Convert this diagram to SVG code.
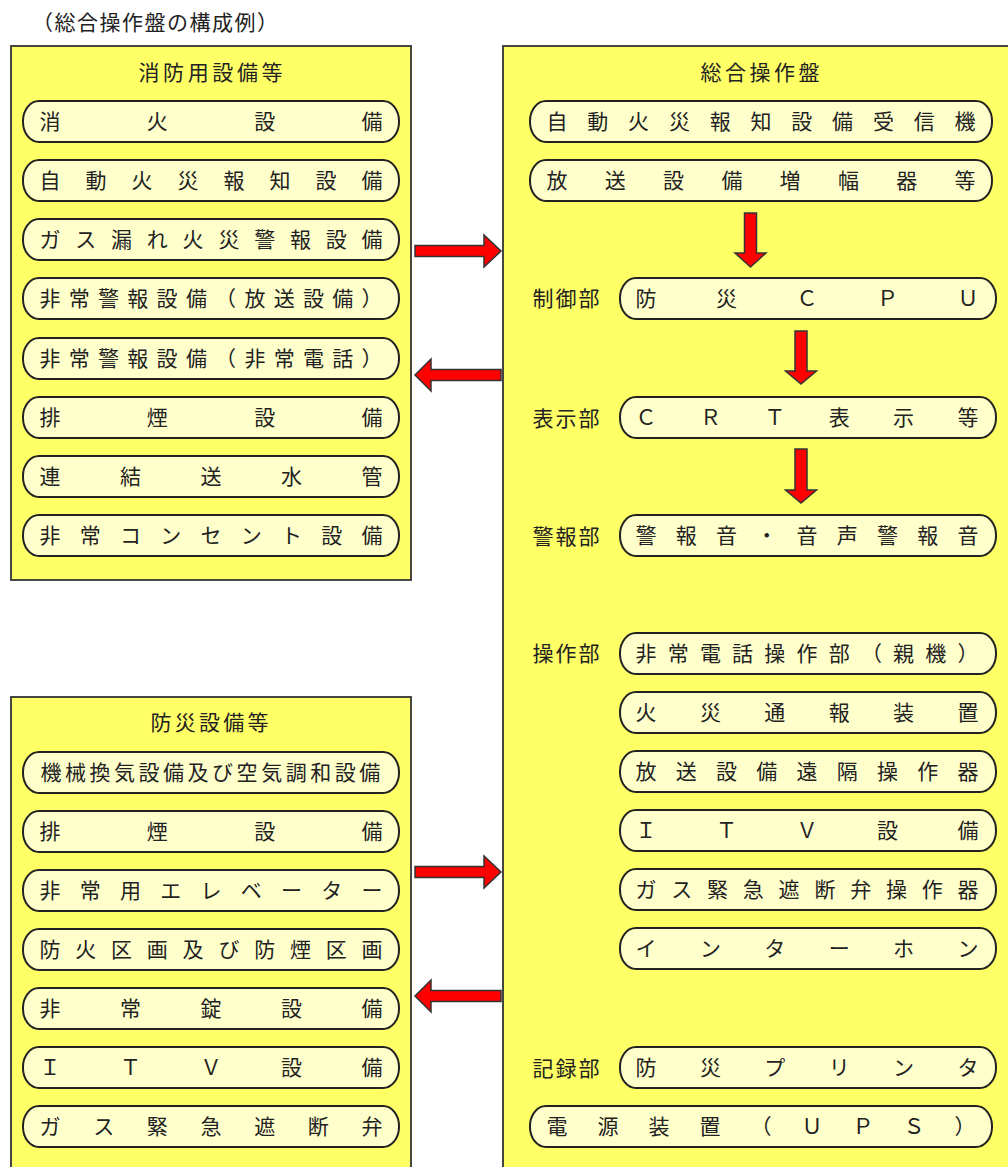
<svg xmlns="http://www.w3.org/2000/svg" width="1008" height="1167" viewBox="0 0 1008 1167">
<style>
.panel{fill:#FFFF66;stroke:#333;stroke-width:1.8}
.pill{fill:#FFFFCC;stroke:#222;stroke-width:2}
.t{font-family:"Noto Sans CJK JP","Noto Sans CJK SC",sans-serif;font-size:21px;fill:#222;text-anchor:middle}
.h{font-family:"Noto Sans CJK JP","Noto Sans CJK SC",sans-serif;font-size:21px;fill:#222}
.arr{fill:#FF0000;stroke:#333;stroke-width:1.5;stroke-linejoin:miter}
</style>
<rect width="1008" height="1167" fill="#FFFFFF"/>
<text class="h" x="32" y="30" letter-spacing="1.5">（総合操作盤の構成例）</text>

<g id="panel-shobo">
<rect class="panel" x="11" y="46" width="400" height="534"/>
<text class="t" x="149 173.6 198.2 222.8 247.4 272" y="80">消防用設備等</text>
</g>
<g id="panel-bosai">
<rect class="panel" x="11" y="697" width="400" height="490"/>
<text class="t" x="161 185.2 209.5 233.8 258" y="730">防災設備等</text>
</g>
<g id="panel-sogo">
<rect class="panel" x="503" y="46" width="530" height="1150"/>
<text class="t" x="711 735.5 760 784.5 809" y="80">総合操作盤</text>
<text class="t" x="543 566 589" y="306">制御部</text>
<text class="t" x="543 566 589" y="426">表示部</text>
<text class="t" x="543 566 589" y="544">警報部</text>
<text class="t" x="543 566 589" y="661">操作部</text>
<text class="t" x="543 566 589" y="1076">記録部</text>
</g>

<g id="l1"><rect class="pill" x="23" y="101" width="376" height="41" rx="16" ry="20"/><text class="t" x="50 157.3 264.7 372" y="129">消火設備</text></g>
<g id="l2"><rect class="pill" x="23" y="160" width="376" height="41" rx="16" ry="20"/><text class="t" x="50 96 142 188 234 280 326 372" y="188">自動火災報知設備</text></g>
<g id="l3"><rect class="pill" x="23" y="219" width="376" height="41" rx="16" ry="20"/><text class="t" x="50 85.8 121.6 157.3 193.1 228.9 264.7 300.4 336.2 372" y="247">ガス漏れ火災警報設備</text></g>
<g id="l4"><rect class="pill" x="23" y="278" width="376" height="41" rx="16" ry="20"/><text class="t" x="50 79.3 108.5 137.8 167.1 196.4 225.6 254.9 284.2 313.5 342.7 372" y="306">非常警報設備（放送設備）</text></g>
<g id="l5"><rect class="pill" x="23" y="338" width="376" height="41" rx="16" ry="20"/><text class="t" x="50 79.3 108.5 137.8 167.1 196.4 225.6 254.9 284.2 313.5 342.7 372" y="366">非常警報設備（非常電話）</text></g>
<g id="l6"><rect class="pill" x="23" y="397" width="376" height="41" rx="16" ry="20"/><text class="t" x="50 157.3 264.7 372" y="425">排煙設備</text></g>
<g id="l7"><rect class="pill" x="23" y="456" width="376" height="41" rx="16" ry="20"/><text class="t" x="50 130.5 211 291.5 372" y="484">連結送水管</text></g>
<g id="l8"><rect class="pill" x="23" y="515" width="376" height="41" rx="16" ry="20"/><text class="t" x="50 90.25 130.5 170.75 211 251.25 291.5 331.75 372" y="543">非常コンセント設備</text></g>

<g id="b1"><rect class="pill" x="23" y="752" width="376" height="41" rx="16" ry="20"/><text class="t" x="51 75.5 100 124.5 149 173.6 198.1 222.6 247.1 271.7 296.2 320.7 345.2 369.7" y="780">機械換気設備及び空気調和設備</text></g>
<g id="b2"><rect class="pill" x="23" y="811" width="376" height="41" rx="16" ry="20"/><text class="t" x="50 157.3 264.7 372" y="839">排煙設備</text></g>
<g id="b3"><rect class="pill" x="23" y="870" width="376" height="41" rx="16" ry="20"/><text class="t" x="50 90.25 130.5 170.75 211 251.25 291.5 331.75 372" y="898">非常用エレベーター</text></g>
<g id="b4"><rect class="pill" x="23" y="929" width="376" height="41" rx="16" ry="20"/><text class="t" x="50 85.8 121.6 157.3 193.1 228.9 264.7 300.4 336.2 372" y="957">防火区画及び防煙区画</text></g>
<g id="b5"><rect class="pill" x="23" y="988" width="376" height="41" rx="16" ry="20"/><text class="t" x="50 130.5 211 291.5 372" y="1016">非常錠設備</text></g>
<g id="b6"><rect class="pill" x="23" y="1047" width="376" height="41" rx="16" ry="20"/><text class="t" x="50 130.5 211 291.5 372" y="1075">ＩＴＶ設備</text></g>
<g id="b7"><rect class="pill" x="23" y="1106" width="376" height="41" rx="16" ry="20"/><text class="t" x="50 103.7 157.3 211 264.7 318.3 372" y="1134">ガス緊急遮断弁</text></g>

<g id="r1"><rect class="pill" x="530" y="101" width="462" height="41" rx="16" ry="20"/><text class="t" x="557 597.8 638.6 679.4 720.2 761 801.8 842.6 883.4 924.2 965" y="129">自動火災報知設備受信機</text></g>
<g id="r2"><rect class="pill" x="530" y="160" width="462" height="41" rx="16" ry="20"/><text class="t" x="557 615.3 673.6 731.9 790.1 848.4 906.7 965" y="188">放送設備増幅器等</text></g>
<g id="r3"><rect class="pill" x="620" y="278" width="376" height="41" rx="16" ry="20"/><text class="t" x="646 726.5 807 887.5 968" y="306">防災ＣＰＵ</text></g>
<g id="r4"><rect class="pill" x="620" y="397" width="376" height="41" rx="16" ry="20"/><text class="t" x="646 710.4 774.8 839.2 903.6 968" y="425">ＣＲＴ表示等</text></g>
<g id="r5"><rect class="pill" x="620" y="515" width="376" height="41" rx="16" ry="20"/><text class="t" x="646 686.25 726.5 766.75 807 847.25 887.5 927.75 968" y="543">警報音・音声警報音</text></g>
<g id="r6"><rect class="pill" x="620" y="633" width="376" height="41" rx="16" ry="20"/><text class="t" x="646 678.2 710.4 742.6 774.8 807 839.2 871.4 903.6 935.8 968" y="661">非常電話操作部（親機）</text></g>
<g id="r7"><rect class="pill" x="620" y="692" width="376" height="41" rx="16" ry="20"/><text class="t" x="646 710.4 774.8 839.2 903.6 968" y="720">火災通報装置</text></g>
<g id="r8"><rect class="pill" x="620" y="751" width="376" height="41" rx="16" ry="20"/><text class="t" x="646 686.25 726.5 766.75 807 847.25 887.5 927.75 968" y="779">放送設備遠隔操作器</text></g>
<g id="r9"><rect class="pill" x="620" y="810" width="376" height="41" rx="16" ry="20"/><text class="t" x="646 726.5 807 887.5 968" y="838">ＩＴＶ設備</text></g>
<g id="r10"><rect class="pill" x="620" y="869" width="376" height="41" rx="16" ry="20"/><text class="t" x="646 681.8 717.6 753.3 789.1 824.9 860.7 896.4 932.2 968" y="897">ガス緊急遮断弁操作器</text></g>
<g id="r11"><rect class="pill" x="620" y="928" width="376" height="41" rx="16" ry="20"/><text class="t" x="646 710.4 774.8 839.2 903.6 968" y="956">インターホン</text></g>
<g id="r12"><rect class="pill" x="620" y="1047" width="376" height="41" rx="16" ry="20"/><text class="t" x="646 710.4 774.8 839.2 903.6 968" y="1075">防災プリンタ</text></g>
<g id="r13"><rect class="pill" x="530" y="1106" width="462" height="41" rx="16" ry="20"/><text class="t" x="557 608 659 710 761 812 863 914 965" y="1134">電源装置（ＵＰＳ）</text></g>

<g id="connectors">
<polygon class="arr" points="415,245.5 484,245.5 484,235 501,251 484,267 484,256.5 415,256.5"/>
<polygon class="arr" points="501,369.5 431,369.5 431,359 415,375 431,391 431,380.5 501,380.5"/>
<polygon class="arr" points="415,866.5 484,866.5 484,856 501,872 484,888 484,877.5 415,877.5"/>
<polygon class="arr" points="501,990.5 431,990.5 431,980 415,996 431,1012 431,1001.5 501,1001.5"/>
<polygon class="arr" points="744.5,213 756.5,213 756.5,253 766,253 750.5,267 735,253 744.5,253"/>
<polygon class="arr" points="795,331 807,331 807,371 816.5,371 801,384 785.5,371 795,371"/>
<polygon class="arr" points="795,449 807,449 807,490 816.5,490 801,503 785.5,490 795,490"/>
</g>
</svg>
